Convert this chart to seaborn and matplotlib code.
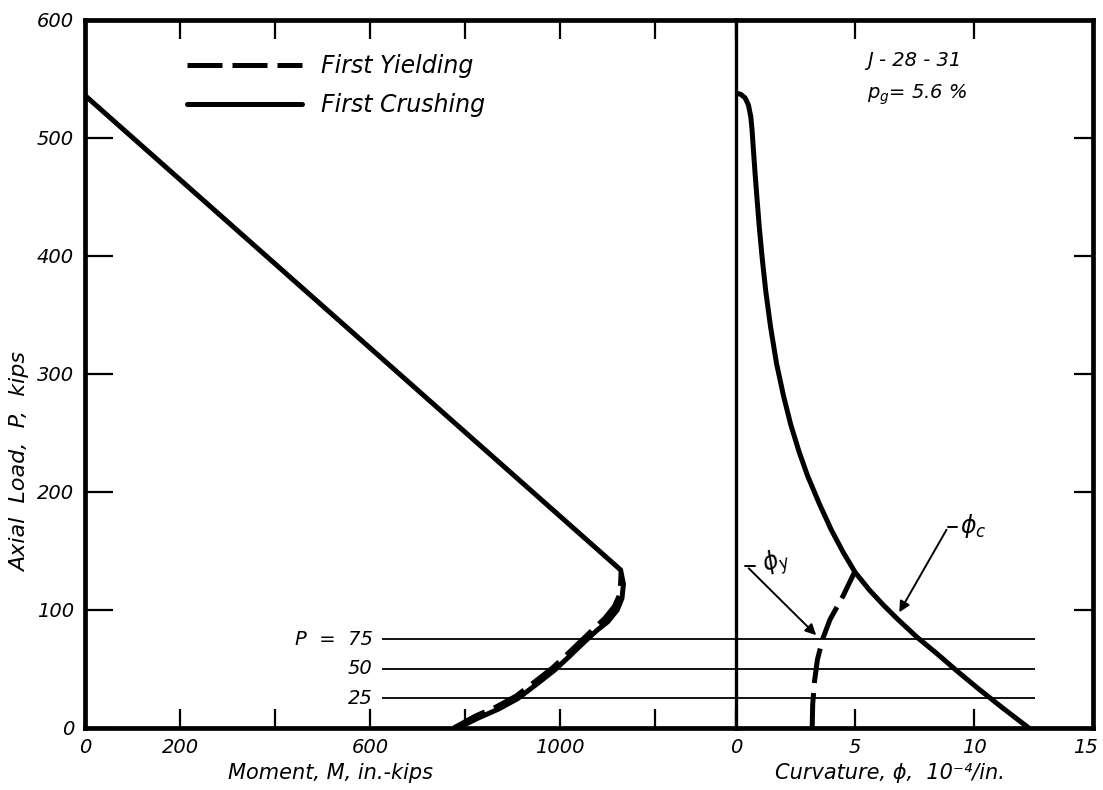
import matplotlib
matplotlib.use("Agg")
import matplotlib.pyplot as plt
import matplotlib.transforms as mtransforms
import seaborn as sns

# ---- data ----
# left panel: moment (in.-kips) vs axial load (kips)
crush_M = [0, 1127, 1133, 1130, 1120, 1100, 1078, 1051, 1020, 988, 950, 911, 870, 825, 785]
crush_MP = [536, 134, 122, 110, 100, 90, 83, 73, 61, 49, 37, 25, 16, 8, 0]
yield_M = [776, 821, 866, 907, 946, 984, 1016, 1047, 1073, 1094, 1114, 1124, 1127, 1128]
yield_MP = [0, 10, 18, 27, 39, 51, 63, 75, 85, 93, 103, 112, 122, 131]

# right panel: curvature (10^-4 / in.) vs axial load (kips)
crush_phi = [0, 0.2, 0.38, 0.52, 0.62, 0.68, 0.73, 0.8, 0.88, 0.97, 1.1, 1.25, 1.45, 1.7,
             2.0, 2.3, 2.65, 3.0, 3.5, 4.0, 4.5, 5.0, 5.6, 6.2, 6.8, 7.6, 8.5, 9.3,
             10.2, 11.2, 12.3]
crush_phiP = [538, 537, 534, 528, 518, 505, 490, 470, 449, 426, 398, 370, 340, 309,
              281, 257, 234, 214, 190, 168, 149, 132, 117, 104, 92, 77, 62, 48,
              33, 17, 0]
yield_phi = [3.2, 3.22, 3.3, 3.42, 3.65, 3.95, 4.5, 5.0]
yield_phiP = [0, 20, 40, 58, 76, 92, 112, 133]

load_levels = [25, 50, 75]
load_labels = ["25", "50", "P  =  75"]
moment_ticks = [0, 200, 400, 600, 800, 1000, 1200]
moment_labels = ["0", "200", "", "600", "", "1000", ""]
phi_ticks = [0, 5, 10, 15]
load_ticks = [0, 100, 200, 300, 400, 500, 600]

sns.set_theme(style="ticks")
plt.rcParams.update({
    "font.family": ["DejaVu Sans"],
    "font.style": "italic",
    "mathtext.fontset": "dejavusans",
    "mathtext.default": "it",
    "axes.linewidth": 3.4,
    "axes.edgecolor": "black",
    "text.color": "black",
    "axes.labelcolor": "black",
    "xtick.color": "black",
    "ytick.color": "black",
})

fig = plt.figure(figsize=(11.03, 7.90), dpi=100)
axL = fig.add_axes([0.0771, 0.0785, 0.5902, 0.8962])
axR = fig.add_axes([0.6673, 0.0785, 0.3237, 0.8962])

dashed = (0, (7, 2))

# moment-load interaction
sns.lineplot(x=yield_M, y=yield_MP, sort=False, estimator=None, color="black",
             lw=3.6, linestyle=dashed, ax=axL, label="First Yielding")
sns.lineplot(x=crush_M, y=crush_MP, sort=False, estimator=None, color="black",
             lw=3.6, ax=axL, label="First Crushing")

# curvature-load
sns.lineplot(x=yield_phi, y=yield_phiP, sort=False, estimator=None, color="black",
             lw=3.6, linestyle=dashed, ax=axR)
sns.lineplot(x=crush_phi, y=crush_phiP, sort=False, estimator=None, color="black",
             lw=3.6, ax=axR)

# constant load lines
axL.hlines(load_levels, 624, 1370, color="black", lw=1.3)
axR.hlines(load_levels, 0, 12.56, color="black", lw=1.3)
for lvl, lab in zip(load_levels, load_labels):
    axL.text(605, lvl, lab, ha="right", va="center", fontsize=14)

axL.set_xlim(0, 1370)
axL.set_ylim(0, 600)
axR.set_xlim(0, 15)
axR.set_ylim(0, 600)

axL.set_xticks(moment_ticks, moment_labels)
axL.set_yticks(load_ticks)
axR.set_xticks(phi_ticks, [str(t) for t in phi_ticks])
axR.set_yticks(load_ticks[1:-1])

axL.tick_params(axis="x", direction="in", top=True, bottom=True, length=14, width=1.6,
                pad=7, labelsize=14)
axL.tick_params(axis="y", direction="in", left=True, right=False, length=20, width=1.6,
                pad=8, labelsize=14)
axR.tick_params(axis="x", direction="in", top=True, bottom=True, length=14, width=1.6,
                pad=7, labelsize=14)
axR.tick_params(axis="y", direction="in", left=False, right=True, length=14, width=1.6,
                labelleft=False)

# last curvature label sits just inside the figure edge
shift = mtransforms.ScaledTranslation(-8 / 100, 0, fig.dpi_scale_trans)
last = axR.get_xticklabels()[-1]
last.set_transform(last.get_transform() + shift)

axL.spines["right"].set_visible(False)
axR.spines["left"].set_linewidth(2.4)
for ax in (axL, axR):
    ax.set_xlabel("")
    ax.set_ylabel("")

# annotations on curvature panel
axR.plot([0.38, 0.8], [137, 137], color="black", lw=1.4)
axR.annotate("", xy=(3.45, 77), xytext=(0.45, 137),
             arrowprops=dict(arrowstyle="-|>", color="black", lw=1.4, mutation_scale=16))
axR.text(1.7, 140, r"$\phi_y$", fontsize=17, ha="center", va="center", rotation=20)
axR.plot([8.9, 9.3], [170, 170], color="black", lw=1.4)
axR.annotate("", xy=(6.8, 96), xytext=(8.9, 170),
             arrowprops=dict(arrowstyle="-|>", color="black", lw=1.4, mutation_scale=16))
axR.text(9.95, 171, r"$\phi_c$", fontsize=17, ha="center", va="center")
axR.text(5.5, 566, "J - 28 - 31", fontsize=14, ha="left", va="center")
axR.text(5.5, 537, r"$p_g$= 5.6 %", fontsize=14, ha="left", va="center")

leg = axL.legend(loc="upper left", bbox_to_anchor=(0.156, 0.952), frameon=False,
                 fontsize=17, handlelength=4.9, handletextpad=0.8, labelspacing=0.65,
                 borderpad=0, borderaxespad=0)

fig.text(20 / 1103, 1 - 462 / 790, "Axial  Load,  P,  kips", rotation=90,
         ha="center", va="center", fontsize=16)
fig.text(330 / 1103, 1 - 773 / 790, "Moment, M, in.-kips", ha="center", va="center",
         fontsize=15)
fig.text(890 / 1103, 1 - 773 / 790, "Curvature, ϕ,  10⁻⁴/in.", ha="center", va="center",
         fontsize=15)

fig.savefig("out.png", dpi=100)
